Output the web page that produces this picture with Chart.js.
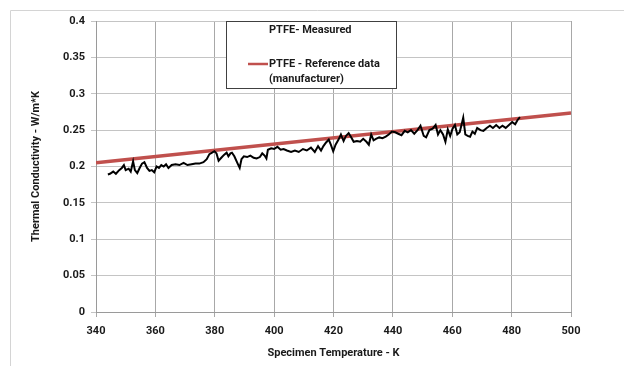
<!DOCTYPE html>
<html>
<head>
<meta charset="utf-8">
<script src="https://cdn.jsdelivr.net/npm/chart.js@4/dist/chart.umd.min.js"></script>
<style>
  html, body { margin: 0; padding: 0; background: #fff; }
  #wrap { width: 624px; height: 366px; position: relative; }
</style>
</head>
<body>
<div id="wrap"><canvas id="kChart" width="624" height="366"></canvas></div>
<script>
const measuredTemps = [344, 344.7, 345.8, 346.7, 347.8, 348.7, 349.4, 350, 351, 351.7, 352.5, 353.1, 353.9, 354.7, 355.5, 356.3, 357.2, 358, 358.8, 359.6,
    360.4, 361.2, 362, 362.8, 363.6, 364.4, 365.5, 366.8, 368.1, 369.5, 370.8, 372.2, 373.5, 374.8, 376.2, 377.3, 378.2, 379.1, 379.9, 380.6,
    381.3, 382.2, 383.1, 384, 384.6, 385.3, 385.8, 386.6, 387.6, 388.4, 389, 389.8, 390.9, 392, 393.1, 394.1, 395.2, 396, 396.8, 397.4,
    397.9, 399, 400, 401.1, 402.2, 403.2, 404.3, 405.7, 407, 408.3, 409.7, 411, 412.4, 413.7, 414.8, 415.8, 416.6, 417.5, 418.4, 419.1,
    419.9, 420.7, 421.7, 422.5, 423.4, 424.2, 425.1, 426, 426.8, 427.9, 429, 430, 431.1, 431.9, 432.7, 433.5, 434.3, 435.4, 436.5, 437.6,
    438.6, 439.7, 440.8, 441.8, 442.9, 444, 445, 446.1, 447.2, 448.3, 449.3, 450.4, 451.2, 452.3, 453.4, 454.4, 455.2, 456, 456.9, 457.7,
    458.5, 459.3, 460.1, 460.9, 461.7, 462.5, 463.3, 463.7, 464.4, 465.2, 466, 466.8, 467.6, 468.4, 469.5, 470.5, 471.6, 472.7, 473.7, 474.8,
    475.9, 476.9, 478, 479.1, 480.2, 481.2, 482, 482.8];
const measuredK = [0.189, 0.190, 0.193, 0.190, 0.195, 0.198, 0.202, 0.195, 0.197, 0.193, 0.207, 0.195, 0.191, 0.198, 0.204, 0.206, 0.198, 0.194, 0.195, 0.192,
    0.200, 0.198, 0.202, 0.200, 0.203, 0.198, 0.202, 0.203, 0.202, 0.205, 0.202, 0.203, 0.204, 0.204, 0.206, 0.210, 0.217, 0.219, 0.221, 0.218,
    0.208, 0.212, 0.216, 0.219, 0.214, 0.218, 0.219, 0.214, 0.205, 0.198, 0.210, 0.214, 0.213, 0.215, 0.212, 0.211, 0.213, 0.218, 0.215, 0.211,
    0.223, 0.225, 0.224, 0.227, 0.223, 0.224, 0.222, 0.220, 0.222, 0.220, 0.224, 0.222, 0.226, 0.220, 0.228, 0.222, 0.228, 0.233, 0.237, 0.230,
    0.221, 0.230, 0.237, 0.244, 0.235, 0.242, 0.246, 0.240, 0.234, 0.235, 0.234, 0.238, 0.234, 0.230, 0.244, 0.236, 0.238, 0.240, 0.239, 0.241,
    0.244, 0.248, 0.247, 0.245, 0.243, 0.249, 0.247, 0.250, 0.245, 0.250, 0.256, 0.242, 0.240, 0.250, 0.252, 0.257, 0.244, 0.250, 0.244, 0.234,
    0.251, 0.242, 0.252, 0.257, 0.244, 0.247, 0.260, 0.267, 0.244, 0.242, 0.241, 0.248, 0.245, 0.253, 0.250, 0.249, 0.253, 0.256, 0.253, 0.257,
    0.253, 0.256, 0.253, 0.257, 0.261, 0.258, 0.264, 0.268];

// Manufacturer reference line
const refTemps = [340, 500];
const refK = [0.205, 0.2735];

const xTicks = [340, 360, 380, 400, 420, 440, 460, 480, 500];
const yTicks = [0, 0.05, 0.1, 0.15, 0.2, 0.25, 0.3, 0.35, 0.4];

const fontFamily = 'Roboto, "Noto Sans", "DejaVu Sans", sans-serif';
const labelFont = { family: fontFamily, size: 11, weight: 'bold' };

// Excel-like outer frame and boxed legend
const framePlugin = {
    id: 'frame',
    beforeDraw(chart) {
        const ctx = chart.ctx;
        ctx.save();
        ctx.strokeStyle = '#d4d4d4';
        ctx.lineWidth = 1;
        ctx.beginPath();
        ctx.moveTo(10.5, 366);
        ctx.lineTo(10.5, 10.5);
        ctx.lineTo(624, 10.5);
        ctx.stroke();
        ctx.restore();
    }
};

const boxLegend = {
    id: 'boxLegend',
    afterDraw(chart) {
        const ctx = chart.ctx;
        const ds = chart.data.datasets;
        ctx.save();
        ctx.fillStyle = '#fff';
        ctx.fillRect(226, 21, 170, 67);
        ctx.strokeStyle = '#404040';
        ctx.lineWidth = 1;
        ctx.strokeRect(226.5, 21.5, 170, 67);
        ctx.font = 'bold 11px ' + fontFamily;
        ctx.fillStyle = '#1a1a1a';
        ctx.textBaseline = 'middle';
        ctx.fillText(ds[0].label, 269, 30);
        ctx.strokeStyle = ds[1].borderColor;
        ctx.lineWidth = 2.5;
        ctx.beginPath();
        ctx.moveTo(248, 64);
        ctx.lineTo(268, 64);
        ctx.stroke();
        ctx.fillText('PTFE - Reference data', 269, 64);
        ctx.fillText('(manufacturer)', 269, 79);
        ctx.restore();
    }
};

const kCtx = document.getElementById('kChart').getContext('2d');
new Chart(kCtx, {
    type: 'line',
    data: {
        datasets: [
            {
                label: 'PTFE- Measured',
                data: measuredTemps.map((t, i) => ({ x: t, y: measuredK[i] })),
                borderColor: '#000000',
                borderWidth: 2,
                pointRadius: 0,
                tension: 0
            },
            {
                label: 'PTFE - Reference data (manufacturer)',
                data: refTemps.map((t, i) => ({ x: t, y: refK[i] })),
                borderColor: '#c0504d',
                borderWidth: 3.5,
                pointRadius: 0,
                tension: 0
            }
        ]
    },
    options: {
        responsive: false,
        animation: false,
        layout: {
            padding: { left: 10, right: 53, top: 21, bottom: 0 }
        },
        plugins: {
            legend: { display: false },
            tooltip: { enabled: false }
        },
        scales: {
            x: {
                type: 'linear',
                min: 340,
                max: 500,
                afterBuildTicks: (axis) => { axis.ticks = xTicks.map(v => ({ value: v })); },
                afterFit: (axis) => { axis.height = 54; },
                grid: {
                    color: '#a8a8a8',
                    tickLength: 5,
                    drawTicks: true
                },
                border: { color: '#9a9a9a' },
                ticks: {
                    color: '#1a1a1a',
                    font: labelFont,
                    padding: 8,
                    maxRotation: 0
                },
                title: {
                    display: true,
                    text: 'Specimen Temperature - K',
                    color: '#1a1a1a',
                    font: labelFont,
                    padding: { top: 0, bottom: 6 }
                }
            },
            y: {
                min: 0,
                max: 0.4,
                afterBuildTicks: (axis) => { axis.ticks = yTicks.map(v => ({ value: v })); },
                afterFit: (axis) => { axis.width = 86; },
                grid: {
                    color: '#c4c4c4',
                    tickLength: 5
                },
                border: { color: '#9a9a9a' },
                ticks: {
                    color: '#1a1a1a',
                    font: labelFont,
                    padding: 6,
                    callback: (v) => String(parseFloat(v.toFixed(2)))
                },
                title: {
                    display: true,
                    text: 'Thermal Conductivity - W/m*K',
                    color: '#1a1a1a',
                    font: labelFont,
                    padding: { top: 20, bottom: 0 }
                }
            }
        }
    },
    plugins: [framePlugin, boxLegend]
});
</script>
</body>
</html>
